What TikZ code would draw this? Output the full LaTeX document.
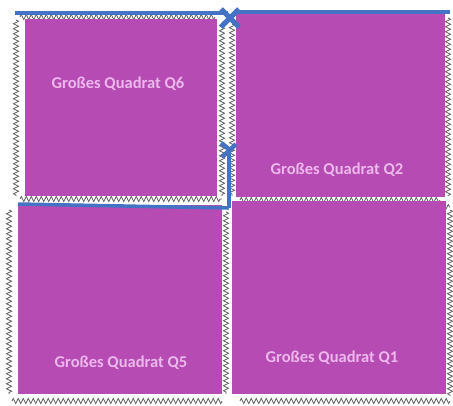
\documentclass[tikz,border=0pt]{standalone}
\usepackage{fontspec}
\setmainfont{Carlito}
\usetikzlibrary{decorations.pathmorphing}
\definecolor{mag}{HTML}{B64BB4}
\definecolor{bl}{HTML}{4472C4}
\definecolor{txt}{HTML}{EDB8EC}
\definecolor{zz}{HTML}{555555}
\tikzset{
  sq/.style={fill=mag, draw=none},
  zig/.style={draw=zz, line width=0.7pt, decorate, decoration={zigzag, segment length=5pt, amplitude=2.6pt}},
  blueline/.style={draw=bl, line width=4.5pt},
  lbl/.style={text=txt, font=\bfseries\fontsize{16.5}{19}\selectfont}
}
\begin{document}
\begin{tikzpicture}[x=1pt,y=-1pt]
\useasboundingbox (0,0) rectangle (453,405);
% zigzag frames
\draw[zig] (16,20) -- (16,196);
\draw[zig] (20,199) -- (222,199);
\draw[zig] (222,22) -- (222,196);
\draw[zig] (20,17) -- (215,17);
\draw[zig] (232,24) -- (232,196);
\draw[zig] (240,200) -- (440,200);
\draw[zig] (448,18) -- (448,196);
\draw[zig] (437,207) -- (450,207);
\draw[zig] (9,210) -- (9,394);
\draw[zig] (12,401) -- (222,401);
\draw[zig] (226,212) -- (226,394);
\draw[zig] (240,401) -- (450,401);
\draw[zig] (450,210) -- (450,396);
% squares
\node[sq, minimum width=192, minimum height=177, inner sep=0] (q6) at (121,107.5) {};
\node[sq, minimum width=209, minimum height=184, inner sep=0] (q2) at (340.5,105) {};
\node[sq, minimum width=204, minimum height=189, inner sep=0] (q5) at (120,299.5) {};
\node[sq, minimum width=214, minimum height=193, inner sep=0] (q1) at (339,297.5) {};
% blue lines
\coordinate (b1) at (15,13);
\coordinate (b2) at (228,13);
\coordinate (b3) at (238,12);
\coordinate (b4) at (450,12);
\coordinate (b5) at (229,152);
\coordinate (b6) at (229,208);
\coordinate (b7) at (18,204);
\draw[blueline] (b1) -- (b2);
\draw[blueline] (b3) -- (b4);
\draw[blueline] (b5) -- (b6);
\draw[blueline, line width=3.5pt] (b7) -- (b6);
\draw[bl, line width=5pt] (221,9) -- (239,27) (221,27) -- (239,9);
\draw[bl, line width=4.5pt] (221,143) -- (230,150) -- (222,157) (230,150) -- (236,144);
% labels
\node[lbl] (t6) at (118,84) {Großes Quadrat Q6};
\node[lbl] (t2) at (337,170) {Großes Quadrat Q2};
\node[lbl] (t5) at (121,363) {Großes Quadrat Q5};
\node[lbl] (t1) at (332,358) {Großes Quadrat Q1};
\end{tikzpicture}
\end{document}
